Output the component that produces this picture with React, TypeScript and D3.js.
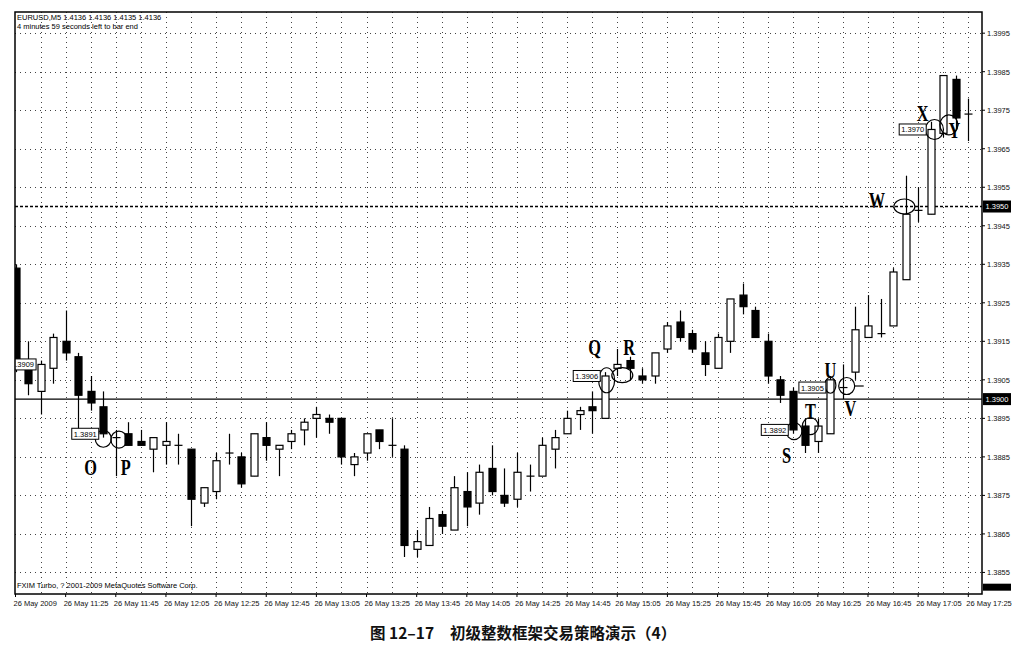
import React from "react";
import * as d3 from "d3";

// time axis labels, one every 4 bars (M5)
const times = [
  "26 May 2009", "26 May 11:25", "26 May 11:45", "26 May 12:05", "26 May 12:25",
  "26 May 12:45", "26 May 13:05", "26 May 13:25", "26 May 13:45", "26 May 14:05",
  "26 May 14:25", "26 May 14:45", "26 May 15:05", "26 May 15:25", "26 May 15:45",
  "26 May 16:05", "26 May 16:25", "26 May 16:45", "26 May 17:05", "26 May 17:25",
];

const opens = [
  1.3934, 1.3908, 1.3902, 1.3908, 1.3915, 1.3911, 1.3902, 1.3898, 1.3890, 1.3891,
  1.3889, 1.3887, 1.3888, 1.3888, 1.3887, 1.3873, 1.3876, 1.3886, 1.3885, 1.3880,
  1.3890, 1.3887, 1.3889, 1.3892, 1.3895, 1.3895, 1.3895, 1.3883, 1.3886, 1.3892,
  1.3888, 1.3887, 1.3861, 1.3862, 1.3870, 1.3866, 1.3876, 1.3873, 1.3882, 1.3875,
  1.3874, 1.3880, 1.3880, 1.3887, 1.3891, 1.3896, 1.3898, 1.3895, 1.3908, 1.3910,
  1.3906, 1.3906, 1.3913, 1.3920, 1.3917, 1.3912, 1.3908, 1.3915, 1.3927, 1.3923,
  1.3915, 1.3905, 1.3902, 1.3893, 1.3889, 1.3891, 1.3903, 1.3907, 1.3916, 1.3917,
  1.3919, 1.3931, 1.3949, 1.3948, 1.3969, 1.3983, 1.3974,
];
const highs = [
  1.3935, 1.3915, 1.3910, 1.3917, 1.3923, 1.3912, 1.3906, 1.3902, 1.3892, 1.3894,
  1.3892, 1.3890, 1.3894, 1.3891, 1.3887, 1.3877, 1.3886, 1.3891, 1.3886, 1.3891,
  1.3894, 1.3888, 1.3892, 1.3895, 1.3898, 1.3896, 1.3895, 1.3886, 1.3891, 1.3892,
  1.3895, 1.3888, 1.3866, 1.3872, 1.3871, 1.3880, 1.3881, 1.3883, 1.3888, 1.3882,
  1.3886, 1.3883, 1.3890, 1.3892, 1.3897, 1.3898, 1.3902, 1.3907, 1.3913, 1.3911,
  1.3908, 1.3912, 1.3920, 1.3923, 1.3918, 1.3915, 1.3917, 1.3926, 1.3930, 1.3924,
  1.3917, 1.3906, 1.3903, 1.3895, 1.3895, 1.3906, 1.3909, 1.3924, 1.3927, 1.3926,
  1.3934, 1.3958, 1.3955, 1.3972, 1.3984, 1.3984, 1.3978,
];
const lows = [
  1.3907, 1.3901, 1.3896, 1.3904, 1.3910, 1.3892, 1.3897, 1.3890, 1.3880, 1.3888,
  1.3888, 1.3881, 1.3883, 1.3883, 1.3867, 1.3872, 1.3874, 1.3883, 1.3877, 1.3880,
  1.3884, 1.3880, 1.3887, 1.3888, 1.3890, 1.3891, 1.3883, 1.3880, 1.3884, 1.3887,
  1.3885, 1.3859, 1.3859, 1.3862, 1.3865, 1.3866, 1.3867, 1.3870, 1.3875, 1.3872,
  1.3872, 1.3876, 1.3880, 1.3882, 1.3891, 1.3892, 1.3891, 1.3895, 1.3906, 1.3905,
  1.3904, 1.3904, 1.3912, 1.3915, 1.3912, 1.3906, 1.3908, 1.3912, 1.3922, 1.3916,
  1.3904, 1.3899, 1.3891, 1.3886, 1.3886, 1.3891, 1.3900, 1.3905, 1.3916, 1.3916,
  1.3919, 1.3931, 1.3946, 1.3948, 1.3968, 1.3970, 1.3967,
];
const closes = [
  1.3909, 1.3904, 1.3909, 1.3916, 1.3912, 1.3901, 1.3899, 1.3891, 1.3890, 1.3888,
  1.3888, 1.3890, 1.3889, 1.3888, 1.3874, 1.3877, 1.3884, 1.3886, 1.3878, 1.3891,
  1.3888, 1.3888, 1.3891, 1.3894, 1.3896, 1.3894, 1.3885, 1.3885, 1.3891, 1.3889,
  1.3888, 1.3862, 1.3863, 1.3869, 1.3867, 1.3877, 1.3872, 1.3881, 1.3876, 1.3873,
  1.3881, 1.3880, 1.3888, 1.3890, 1.3895, 1.3897, 1.3897, 1.3906, 1.3909, 1.3908,
  1.3905, 1.3912, 1.3919, 1.3916, 1.3913, 1.3909, 1.3916, 1.3926, 1.3924, 1.3916,
  1.3906, 1.3901, 1.3892, 1.3888, 1.3893, 1.3905, 1.3903, 1.3918, 1.3919, 1.3917,
  1.3933, 1.3948, 1.3949, 1.3970, 1.3984, 1.3973, 1.3974,
];

const levelLines = [1.39, 1.395]; // solid, dashed

// price tags drawn by the trader: bar index, anchor price, text
const tagBars = [2, 7, 47, 62, 65, 73];
const tagPrices = [1.3909, 1.3891, 1.3906, 1.3892, 1.3903, 1.3970];
const tagTexts = ["1.3909", "1.3891", "1.3906", "1.3892", "1.3905", "1.3970"];

// marked points (circles) and their letters
const markBars = [7, 8.25, 47.15, 48.4, 62.1, 63.4, 65, 66.3, 70.9, 73.3, 74.45];
const markPrices = [1.38897, 1.38895, 1.39049, 1.39062, 1.38917, 1.3893, 1.39036, 1.39034, 1.395, 1.397, 1.39712];
const markShapes = ["c", "c", "tall", "wide", "c", "c", "narrow", "c", "wide", "big", "big"];
const letters = ["O", "P", "Q", "R", "S", "T", "U", "V", "W", "X", "Y"];
const letterBars = [6, 8.8, 46.2, 48.95, 61.5, 63.4, 65, 66.6, 68.7, 72.35, 74.9];
const letterPrices = [1.38823, 1.38823, 1.39134, 1.39136, 1.38855, 1.38968, 1.39075, 1.38977, 1.39516, 1.39744, 1.39699];

const axisFont = "'Liberation Sans', Arial, sans-serif";

export default function App() {
  const left = 15, right = 982, top = 12, bottom = 594;
  const x = d3.scaleLinear().domain([0, 76]).range([15.5, 968.3]);
  const y = d3.scaleLinear().domain([1.38494, 1.40005]).range([bottom, top]);
  const priceTicks = d3.range(15).map((k) => 1.3855 + k * 0.001);
  const fmt = d3.format(".4f");
  const bodyW = 7;

  const radii: Record<string, [number, number]> = {
    c: [8, 8.5], tall: [8, 12.5], wide: [10.5, 7.5], narrow: [5.5, 8], big: [9, 10],
  };

  return (
    <svg width={1029} height={649} style={{ position: "absolute", left: 0, top: 0, background: "#fff" }}>
      <defs>
        <clipPath id="plotclip">
          <rect x={left} y={top} width={right - left} height={bottom - top} />
        </clipPath>
      </defs>

      {/* dotted grid */}
      <g stroke="#444" strokeWidth={1} strokeDasharray="1 4">
        {priceTicks.map((p) => (
          <line key={"h" + p} x1={left} x2={right} y1={Math.round(y(p)) + 0.5} y2={Math.round(y(p)) + 0.5} />
        ))}
        {d3.range(2, 77, 2).map((i) => (
          <line key={"v" + i} x1={Math.round(x(i)) + 0.5} x2={Math.round(x(i)) + 0.5} y1={top} y2={bottom} />
        ))}
      </g>

      {/* level lines */}
      <line x1={left} x2={right} y1={y(levelLines[0])} y2={y(levelLines[0])} stroke="#000" strokeWidth={1.4} />
      <line x1={left} x2={right} y1={y(levelLines[1])} y2={y(levelLines[1])} stroke="#000" strokeWidth={1.4} strokeDasharray="3 2" />

      {/* candles */}
      <g clipPath="url(#plotclip)">
        {opens.map((o, i) => {
          const c = closes[i];
          const cx = Math.round(x(i)) + 0.5;
          const yTop = y(Math.max(o, c));
          const yBot = y(Math.min(o, c));
          const bull = c >= o;
          const h = Math.max(1, yBot - yTop);
          return (
            <g key={i}>
              <line x1={cx} x2={cx} y1={y(highs[i])} y2={y(lows[i])} stroke="#000" strokeWidth={1.2} />
              {h <= 1.5 ? (
                <line x1={cx - 4} x2={cx + 4} y1={yTop} y2={yTop} stroke="#000" strokeWidth={1.2} />
              ) : (
                <rect x={cx - bodyW / 2} y={yTop} width={bodyW} height={h}
                  fill={bull ? "#fff" : "#000"} stroke="#000" strokeWidth={1.2} />
              )}
            </g>
          );
        })}

        {/* circles */}
        {markBars.map((b, k) => {
          const [rx, ry] = radii[markShapes[k]];
          return (
            <ellipse key={"m" + k} cx={x(b)} cy={y(markPrices[k])} rx={rx} ry={ry}
              fill="none" stroke="#000" strokeWidth={1.2} />
          );
        })}
        <line x1={x(markBars[7]) + 8} x2={x(markBars[7]) + 17} y1={y(markPrices[7])} y2={y(markPrices[7])} stroke="#000" strokeWidth={1.2} />

        {/* price tags */}
        {tagBars.map((b, k) => {
          const rx = x(b) - 4.5;
          const cy = y(tagPrices[k]);
          return (
            <g key={"t" + k}>
              <rect x={rx - 27} y={cy - 5.5} width={27} height={11} fill="#fff" stroke="#000" strokeWidth={1} />
              <text x={rx - 13.5} y={cy + 3} textAnchor="middle" fontFamily={axisFont} fontSize={7.5} fill="#000">
                {tagTexts[k]}
              </text>
            </g>
          );
        })}

        {/* letters */}
        {letters.map((l, k) => (
          <text key={"l" + k} transform={`translate(${x(letterBars[k])},${y(letterPrices[k]) + 8}) scale(0.68,1)`}
            textAnchor="middle" fontFamily="'Liberation Serif', 'Times New Roman', serif" fontWeight="bold" fontSize={24} fill="#000">
            {l}
          </text>
        ))}
      </g>

      {/* frame */}
      <rect x={left} y={top} width={right - left} height={bottom - top} fill="none" stroke="#000" strokeWidth={1.5} />

      {/* right price axis */}
      <g fontFamily={axisFont} fontSize={7.5} fill="#111">
        {priceTicks.map((p) => (
          <g key={"r" + p}>
            <line x1={right} x2={right + 3} y1={y(p)} y2={y(p)} stroke="#000" />
            <text x={right + 5} y={y(p) + 2.8}>{fmt(p)}</text>
          </g>
        ))}
        {levelLines.map((p) => (
          <g key={"b" + p}>
            <rect x={right + 1} y={y(p) - 6} width={28} height={12} fill="#000" />
            <text x={right + 15} y={y(p) + 2.8} textAnchor="middle" fill="#fff">{fmt(p)}</text>
          </g>
        ))}
        <rect x={right + 1} y={y(1.385) - 8} width={28} height={7} fill="#000" />
      </g>

      {/* time axis */}
      <g fontFamily={axisFont} fontSize={7.5} fill="#111">
        {times.map((t, k) => (
          <g key={"x" + k}>
            <line x1={x(k * 4)} x2={x(k * 4)} y1={bottom} y2={bottom + 3} stroke="#000" />
            <text x={x(k * 4) - 2} y={bottom + 12}>{t}</text>
          </g>
        ))}
      </g>

      {/* info texts */}
      <g fontFamily={axisFont} fontSize={7.5} fill="#000">
        <text x={17} y={20}>EURUSD,M5  1.4136 1.4136 1.4135 1.4136</text>
        <text x={17} y={29}>4 minutes 59 seconds left to bar end</text>
        <text x={17} y={588}>FXIM Turbo, ? 2001-2009 MetaQuotes Software Corp.</text>
      </g>

      {/* caption */}
      <g fontFamily="'Noto Sans CJK SC', sans-serif" fontWeight="bold" fontSize={15.5} fill="#111">
        <text x={370} y={639}>图 12–17</text>
        <text x={450} y={639}>初级整数框架交易策略演示（4）</text>
      </g>
    </svg>
  );
}
